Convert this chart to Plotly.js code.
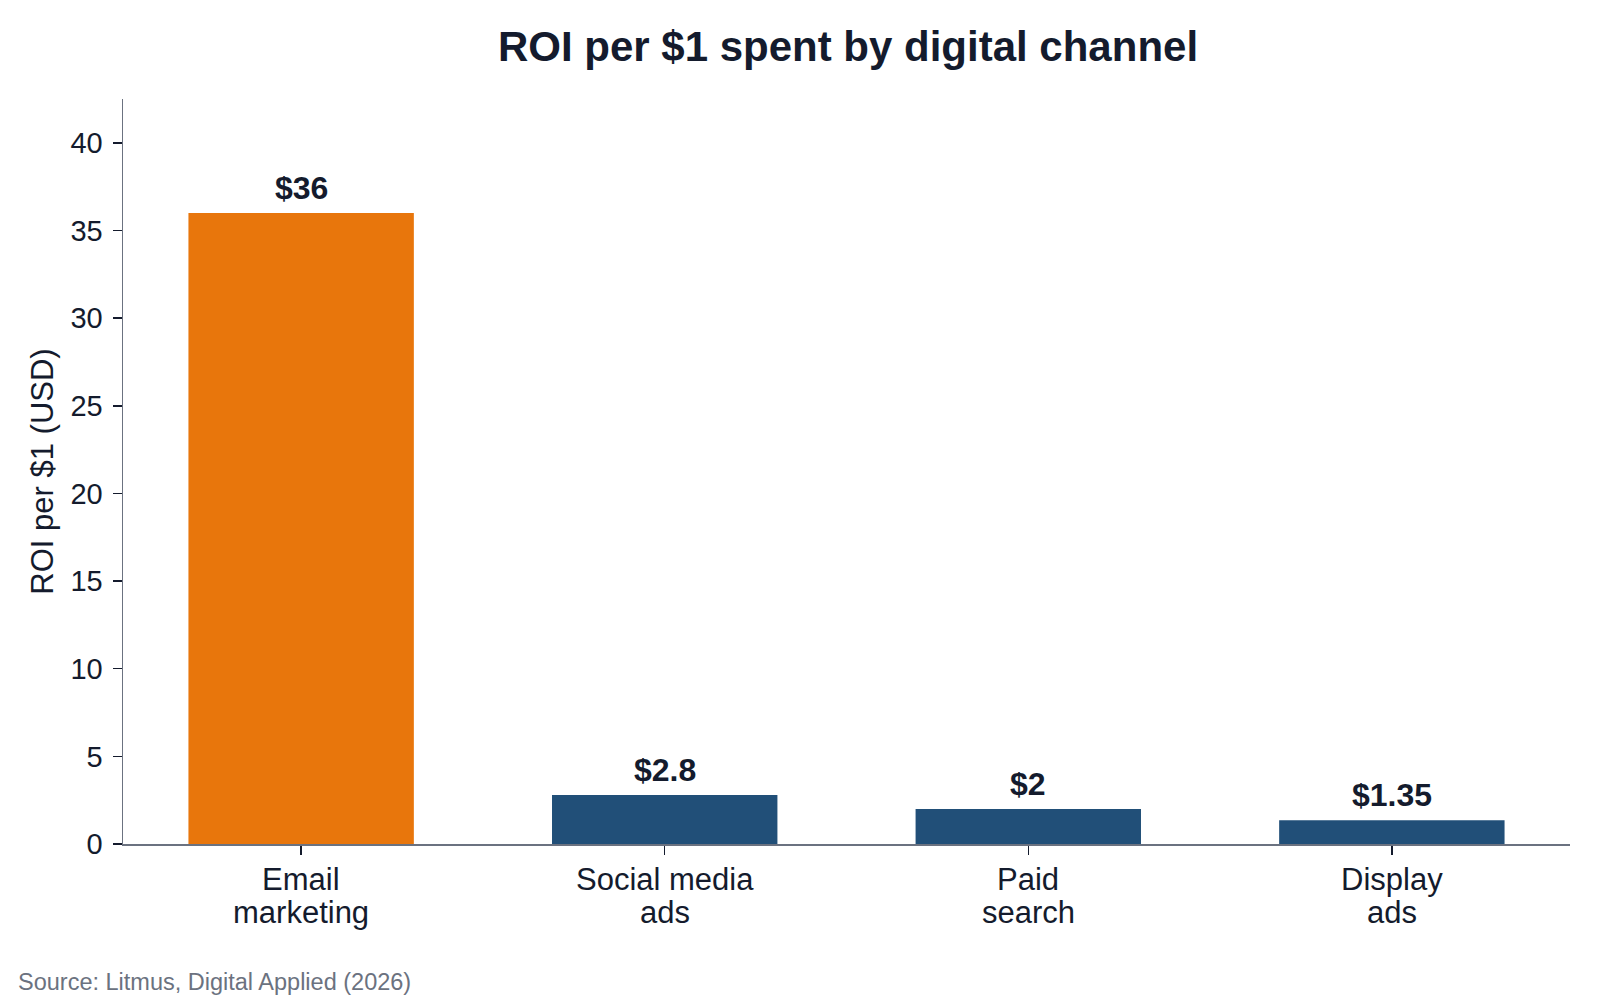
<!DOCTYPE html>
<html>
<head>
<meta charset="utf-8">
<script src="https://cdn.plot.ly/plotly-3.0.1.min.js"></script>
<style>
  html, body { margin: 0; padding: 0; background: #ffffff; }
  #chart { width: 1600px; height: 1000px; }
</style>
</head>
<body>
<div id="chart"></div>
<script>
// ROI per $1 spent, by channel
var channels = ['Email marketing', 'Social media ads', 'Paid search', 'Display ads'];
var labelTop = ['Email', 'Social media', 'Paid', 'Display'];
var labelBottom = ['marketing', 'ads', 'search', 'ads'];
var roi = [36, 2.8, 2, 1.35];
var roiLabels = ['$36', '$2.8', '$2', '$1.35'];
var barColors = ['#E8760C', '#214F78', '#214F78', '#214F78'];

var ink = '#141B2D';
var axisGrey = '#6B7280';
var fontFam = 'Liberation Sans, Arial, sans-serif';

var trace = {
    type: 'bar',
    x: channels,
    y: roi,
    marker: { color: barColors, line: { width: 0 } },
    hoverinfo: 'skip'
};

// value labels above the bars and two-line category labels
var notes = [];
for (var i = 0; i < channels.length; i++) {
    notes.push({
        text: '<b>' + roiLabels[i] + '</b>',
        xref: 'x', yref: 'y', x: channels[i], y: roi[i],
        yanchor: 'bottom', yshift: 5, showarrow: false,
        font: { size: 32, color: ink }
    });
    notes.push({
        text: labelTop[i],
        xref: 'x', yref: 'paper', x: channels[i], y: 0,
        yanchor: 'middle', yshift: -35, showarrow: false,
        font: { size: 31, color: ink }
    });
    notes.push({
        text: labelBottom[i],
        xref: 'x', yref: 'paper', x: channels[i], y: 0,
        yanchor: 'middle', yshift: -68, showarrow: false,
        font: { size: 31, color: ink }
    });
}
notes.push({
    text: 'Source: Litmus, Digital Applied (2026)',
    xref: 'paper', yref: 'paper',
    x: 0, y: 0,
    xshift: -107,
    yshift: -138,
    xanchor: 'left', yanchor: 'middle',
    showarrow: false,
    font: { size: 23.5, color: axisGrey }
});

var layout = {
    width: 1600,
    height: 1000,
    paper_bgcolor: '#ffffff',
    plot_bgcolor: '#ffffff',
    margin: { l: 123, r: 30, t: 99, b: 156 },
    font: { family: fontFam, color: ink },
    title: {
        text: '<b>ROI per $1 spent by digital channel</b>',
        font: { size: 42, color: ink },
        x: 0.53,
        xanchor: 'center',
        y: 0.954,
        yanchor: 'middle'
    },
    bargap: 0.38,
    showlegend: false,
    xaxis: {
        type: 'category',
        range: [-0.49, 3.49],
        showline: true,
        linecolor: axisGrey,
        linewidth: 1.5,
        ticks: 'outside',
        ticklen: 9,
        tickwidth: 1.5,
        tickcolor: ink,
        showticklabels: false,
        showgrid: false,
        zeroline: false,
        fixedrange: true
    },
    yaxis: {
        range: [0, 42.5],
        tickvals: [0, 5, 10, 15, 20, 25, 30, 35, 40],
        showline: true,
        linecolor: axisGrey,
        linewidth: 1.5,
        ticks: 'outside',
        ticklen: 9,
        tickwidth: 1.5,
        tickcolor: ink,
        ticklabelstandoff: 4,
        tickfont: { size: 29, color: ink },
        showgrid: false,
        zeroline: false,
        title: { text: 'ROI per $1 (USD)', font: { size: 31, color: ink }, standoff: 7 },
        fixedrange: true
    },
    annotations: notes
};

Plotly.newPlot('chart', [trace], layout, { displayModeBar: false, staticPlot: true });
</script>
</body>
</html>
